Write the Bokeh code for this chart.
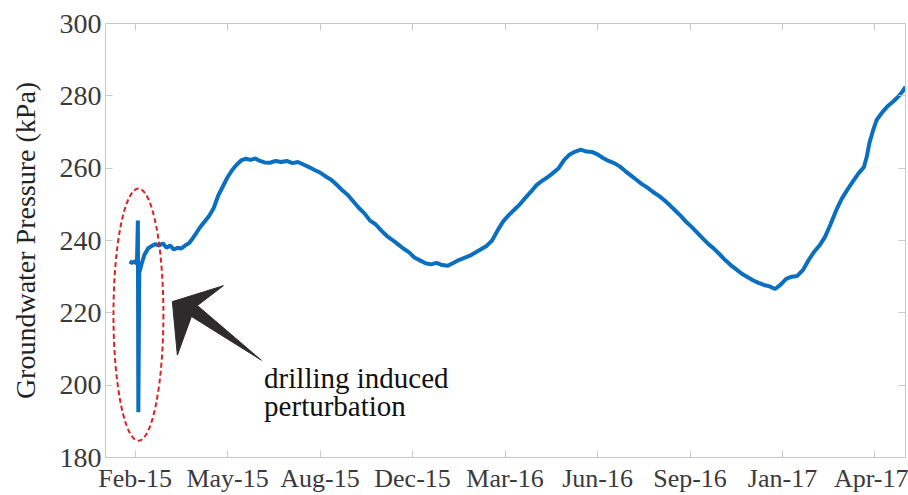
from bokeh.plotting import figure
from bokeh.models import LinearAxis, FixedTicker, Label, Range1d, CustomLabelingPolicy
from bokeh.embed import file_html
from bokeh.resources import INLINE

# ---- data (days from Feb-15 tick, groundwater pressure kPa) ----
days = [-6, -3, 0, 2, 3, 3.5, 4.5, 7, 10, 14, 18, 22, 26, 30, 34, 38, 42, 46, 50, 54,
        58, 62, 66, 70, 75, 80, 85, 90, 95, 100, 105, 110, 115, 120, 125, 130, 135, 140,
        146, 152, 158, 164, 170, 176, 182, 188, 194, 200, 206, 212, 218, 224, 230, 236,
        242, 248, 254, 260, 266, 272, 278, 284, 290, 296, 302, 308, 314, 320, 326, 332,
        338, 344, 350, 356, 362, 368, 374, 380, 386, 392, 398, 404, 410, 416, 422, 428,
        434, 440, 446, 452, 458, 464, 470, 476, 482, 488, 494, 500, 506, 512, 518, 524,
        530, 536, 542, 548, 554, 560, 566, 572, 578, 584, 590, 596, 602, 608, 614, 620,
        626, 632, 638, 644, 650, 656, 662, 668, 674, 680, 686, 692, 698, 704, 710, 716,
        722, 728, 734, 740, 746, 752, 758, 764, 770, 776, 782, 788, 791, 794, 798, 802,
        808, 814, 820, 826, 830, 833]
pressure = [234.2, 233.8, 234.3, 233.5, 245.5, 192.5, 231.0, 233.5, 236.0, 237.8, 238.5,
            239.0, 238.6, 239.2, 238.0, 238.6, 237.5, 238.0, 237.8, 238.6, 239.2, 240.5,
            242.0, 243.6, 245.2, 246.8, 249.0, 252.5, 255.0, 257.5, 259.5, 261.0, 262.2,
            262.6, 262.3, 262.7, 262.0, 261.6, 261.5, 262.0, 261.7, 262.0, 261.4, 261.7,
            261.0, 260.3, 259.5, 258.8, 257.7, 256.8, 255.4, 253.9, 252.6, 250.8, 249.0,
            247.5, 245.5, 244.5, 242.8, 241.3, 240.2, 239.0, 237.8, 236.8, 235.3, 234.5,
            233.7, 233.4, 233.8, 233.2, 233.0, 233.8, 234.6, 235.2, 235.8, 236.7, 237.6,
            238.5, 240.0, 242.8, 245.3, 247.0, 248.5, 250.0, 251.8, 253.5, 255.3, 256.5,
            257.5, 258.7, 260.0, 262.3, 263.8, 264.6, 265.1, 264.6, 264.5, 263.8, 262.8,
            262.0, 261.4, 260.5, 259.2, 258.0, 256.8, 255.6, 254.6, 253.4, 252.4, 251.2,
            249.8, 248.3, 246.8, 245.1, 243.7, 242.1, 240.5, 239.0, 237.7, 236.2, 234.6,
            233.2, 232.0, 230.8, 229.9, 229.0, 228.3, 227.7, 227.3, 226.6, 227.8, 229.4,
            230.0, 230.2, 231.8, 234.5, 236.8, 238.6, 241.0, 244.5, 248.3, 251.5, 254.0,
            256.3, 258.5, 260.3, 263.0, 267.0, 270.5, 273.4, 275.5, 277.2, 278.5, 280.0,
            281.3, 282.5]

tick_days = [0, 100, 200, 300, 400, 500, 600, 700, 800]
tick_labels = ["Feb-15", "May-15", "Aug-15", "Dec-15", "Mar-16", "Jun-16",
               "Sep-16", "Jan-17", "Apr-17"]
y_ticks = [180, 200, 220, 240, 260, 280, 300]

# annotation geometry (data units)
ell_x, ell_y, ell_w, ell_h = 3.6, 219.5, 54, 69.7
arrow_x = [40.3, 95.5, 67.4, 136.5, 60.9, 45.7]
arrow_y = [223.1, 227.5, 222.0, 206.9, 219.0, 208.3]

SERIF = "Liberation Serif"
GRID = "#c8c8c8"

p = figure(width=908, height=495, output_backend="svg", toolbar_location=None,
           x_range=Range1d(-32, 833), y_range=Range1d(180, 300),
           min_border_left=105, min_border_right=3, min_border_top=23,
           min_border_bottom=35)
p.grid.visible = False
p.outline_line_color = GRID
p.background_fill_color = "white"
p.border_fill_color = "white"

p.line(days, pressure, line_color="#0b6fbf", line_width=4)

p.ellipse(x=[ell_x], y=[ell_y], width=[ell_w], height=[ell_h], fill_alpha=0,
          line_color="#e02020", line_width=2, line_dash="5 3")
p.patch(arrow_x, arrow_y, fill_color="#2e2b2c", line_color="#2e2b2c", line_width=1)

p.add_layout(Label(x=139.5, y=202.0, text="drilling induced", text_font=SERIF,
                   text_font_size="29px", text_color="#111111",
                   text_baseline="alphabetic"))
p.add_layout(Label(x=139.5, y=194.3, text="perturbation", text_font=SERIF,
                   text_font_size="29px", text_color="#111111",
                   text_baseline="alphabetic"))

no_labels = CustomLabelingPolicy(code="""
for (const i of indices)
    indices.unset(i)
return indices
""")

def style(ax, size="26px"):
    ax.axis_line_color = GRID
    ax.major_tick_line_color = GRID
    ax.major_tick_in = 7
    ax.major_tick_out = 0
    ax.minor_tick_line_color = None
    ax.major_label_text_font = SERIF
    ax.major_label_text_color = "#3a3a3a"
    ax.major_label_text_font_size = size
    ax.major_label_standoff = 4

xa = p.xaxis[0]
xa.ticker = FixedTicker(ticks=tick_days)
xa.major_label_overrides = {d: l for d, l in zip(tick_days, tick_labels)}
style(xa)
xa.major_label_standoff = 6

ya = p.yaxis[0]
ya.ticker = FixedTicker(ticks=y_ticks)
style(ya, "28px")
ya.axis_label = "Groundwater Pressure (kPa)"
ya.axis_label_text_font = SERIF
ya.axis_label_text_font_size = "28px"
ya.axis_label_text_font_style = "normal"
ya.axis_label_text_color = "#222222"
ya.axis_label_standoff = 16

top = LinearAxis(ticker=FixedTicker(ticks=tick_days), major_label_policy=no_labels)
style(top, "0px")
top.major_label_standoff = 0
p.add_layout(top, "above")
right = LinearAxis(ticker=FixedTicker(ticks=y_ticks), major_label_policy=no_labels)
style(right, "0px")
right.major_label_standoff = 0
p.add_layout(right, "right")

open("out.html", "w").write(file_html(p, INLINE))
